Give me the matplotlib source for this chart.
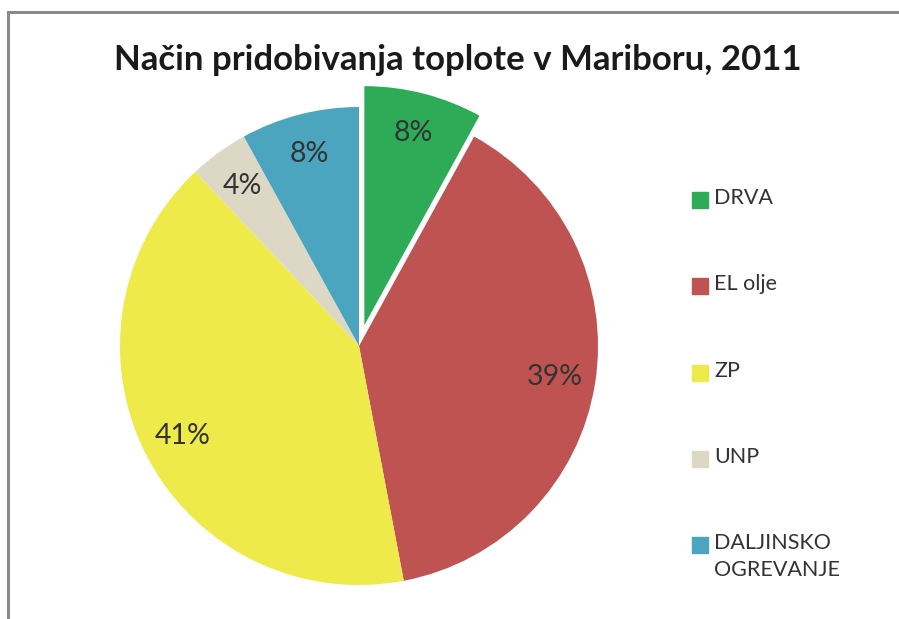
import matplotlib.pyplot as plt
from matplotlib.patches import Rectangle
from matplotlib.lines import Line2D

labels = ['DRVA', 'EL olje', 'ZP', 'UNP', 'DALJINSKO\nOGREVANJE']
shares = [8, 39, 41, 4, 8]
colors = ['#2eab57', '#be5352', '#eeea4a', '#ddd8c5', '#4ba5bf']
explode = [0.09, 0, 0, 0, 0]

plt.rcParams['font.family'] = ['Lato', 'DejaVu Sans']

W, H = 899, 619
fig = plt.figure(figsize=(W / 100, H / 100), dpi=100)

# pie centre / radius in pixels (from top-left)
cx, cy, r = 359, 346, 239
pad = 1.2
ax = fig.add_axes([(cx - pad * r) / W, (H - cy - pad * r) / H, 2 * pad * r / W, 2 * pad * r / H])
wedges, texts, autotexts = ax.pie(shares, colors=colors, explode=explode, startangle=90,
                                  counterclock=False, autopct='%d%%', pctdistance=0.83,
                                  textprops=dict(fontsize=20.5, color='#333333'))
ax.set_xlim(-pad, pad)
ax.set_ylim(-pad, pad)
ax.axis('off')

fig.text(458 / W, 1 - 60 / H, 'Način pridobivanja toplote v Mariboru, 2011',
         ha='center', va='center', fontsize=25, fontweight='bold', color='#1a1a1a')

# legend
for i, (lab, col) in enumerate(zip(labels, colors)):
    yc = 200 + i * 86.3
    fig.patches.append(Rectangle((692 / W, 1 - (yc + 8) / H), 16 / W, 16 / H,
                                 color=col, transform=fig.transFigure))
    fig.text(714 / W, 1 - (yc - 12) / H, lab, ha='left', va='top', fontsize=15.5,
             color='#333333', linespacing=1.4)

# frame (cropped chart border)
fig.add_artist(Line2D([8 / W, 8 / W], [0, 1 - 12 / H], color='#8a8a8a', lw=2.2))
fig.add_artist(Line2D([8 / W, 1], [1 - 12 / H, 1 - 12 / H], color='#8a8a8a', lw=2.2))

fig.savefig('out.png', dpi=100)
